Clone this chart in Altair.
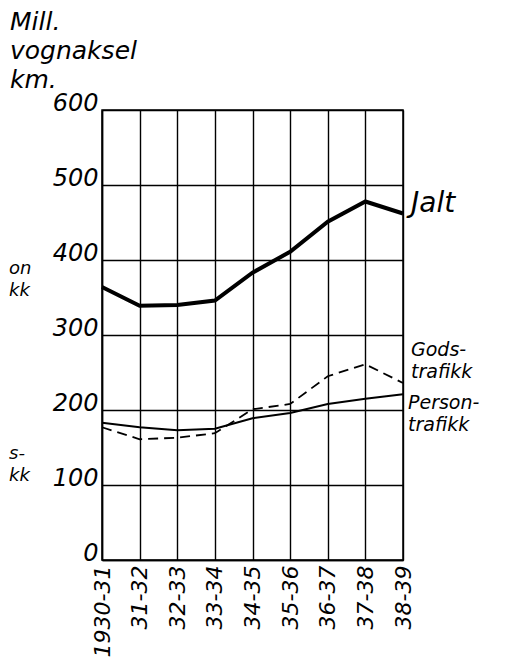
import altair as alt
import pandas as pd

categories = ["1930-31", "31-32", "32-33", "33-34", "34-35", "35-36", "36-37", "37-38", "38-39"]
jalt = [364, 339, 340, 346, 383, 411, 451, 478, 462]
gods = [177, 161, 163, 169, 201, 208, 245, 261, 236]
person = [183, 177, 173, 175, 189, 196, 208, 215, 221]
y_ticks = [0, 100, 200, 300, 400, 500, 600]
title_lines = ["Mill.", "vognaksel", "km."]

FONT = "DejaVu Sans"
W, H = 301, 450

df = pd.DataFrame({
    "periode": categories * 3,
    "verdi": jalt + gods + person,
    "serie": ["Jalt"] * 9 + ["Godstrafikk"] * 9 + ["Persontrafikk"] * 9,
})

x = alt.X("periode:N", sort=categories,
          scale=alt.Scale(type="point", padding=0),
          axis=alt.Axis(title=None, labelAngle=270, labelFontSize=22, labelFont=FONT,
                        labelFontStyle="italic", labelColor="black", labelPadding=5,
                        ticks=False, grid=True, gridColor="black", gridOpacity=1,
                        gridWidth=1.4, domainColor="black", domainWidth=1.5))
y = alt.Y("verdi:Q", scale=alt.Scale(domain=[0, 600], nice=False),
          axis=alt.Axis(title=None, values=y_ticks, labelFontSize=24, labelFont=FONT,
                        labelFontStyle="italic", labelColor="black", labelPadding=4,
                        labelBaseline="alphabetic", ticks=False, grid=True,
                        gridColor="black", gridOpacity=1, gridWidth=1.4,
                        domainColor="black", domainWidth=1.5))

base = alt.Chart(df)

line_jalt = base.transform_filter(alt.datum.serie == "Jalt").mark_line(
    color="black", strokeWidth=4).encode(x=x, y=y)
line_gods = base.transform_filter(alt.datum.serie == "Godstrafikk").mark_line(
    color="black", strokeWidth=1.8, strokeDash=[10, 6]).encode(x=x, y=y)
line_person = base.transform_filter(alt.datum.serie == "Persontrafikk").mark_line(
    color="black", strokeWidth=2).encode(x=x, y=y)

last = df[df["periode"] == categories[-1]].copy()
last["label"] = last["serie"].map({"Jalt": "Jalt", "Godstrafikk": "Gods-\ntrafikk",
                                   "Persontrafikk": "Person-\ntrafikk"})
lab_base = alt.Chart(last)
lab_jalt = lab_base.transform_filter(alt.datum.serie == "Jalt").mark_text(
    align="left", baseline="middle", dx=8, dy=-10, fontSize=28, font=FONT,
    fontStyle="italic", color="black").encode(x=x, y=y, text="label:N")
lab_gods = lab_base.transform_filter(alt.datum.serie == "Godstrafikk").mark_text(
    align="left", baseline="middle", dx=8, dy=-33, fontSize=19, font=FONT,
    fontStyle="italic", color="black", lineBreak="\n", lineHeight=22).encode(
    x=x, y=y, text="label:N")
lab_person = lab_base.transform_filter(alt.datum.serie == "Persontrafikk").mark_text(
    align="left", baseline="middle", dx=5, dy=9, fontSize=19, font=FONT,
    fontStyle="italic", color="black", lineBreak="\n", lineHeight=22).encode(
    x=x, y=y, text="label:N")

title_df = pd.DataFrame({"t": ["\n".join(title_lines)]})
title = alt.Chart(title_df).mark_text(
    align="left", baseline="top", fontSize=25, font=FONT, fontStyle="italic",
    color="black", lineBreak="\n", lineHeight=29).encode(
    x=alt.value(-92), y=alt.value(-100), text="t:N")

frag_df = pd.DataFrame({"t": ["on\nkk", "s-\nkk"], "k": [0, 1]})
frag1 = alt.Chart(frag_df).transform_filter(alt.datum.k == 0).mark_text(
    align="left", baseline="top", fontSize=18, font=FONT, fontStyle="italic",
    color="black", lineBreak="\n", lineHeight=22).encode(
    x=alt.value(-93), y=alt.value(150), text="t:N")
frag2 = alt.Chart(frag_df).transform_filter(alt.datum.k == 1).mark_text(
    align="left", baseline="top", fontSize=18, font=FONT, fontStyle="italic",
    color="black", lineBreak="\n", lineHeight=22).encode(
    x=alt.value(-93), y=alt.value(335), text="t:N")

chart = alt.layer(line_person, line_gods, line_jalt, lab_jalt, lab_gods, lab_person,
                  title, frag1, frag2).properties(
    width=W, height=H,
    autosize=alt.AutoSizeParams(type="none"),
    padding={"left": 94, "top": 102, "right": 99, "bottom": 103},
    background="white",
).configure_view(stroke="black", strokeWidth=1.5)

chart.save("out.html", embed_options={"renderer": "svg", "actions": False})
